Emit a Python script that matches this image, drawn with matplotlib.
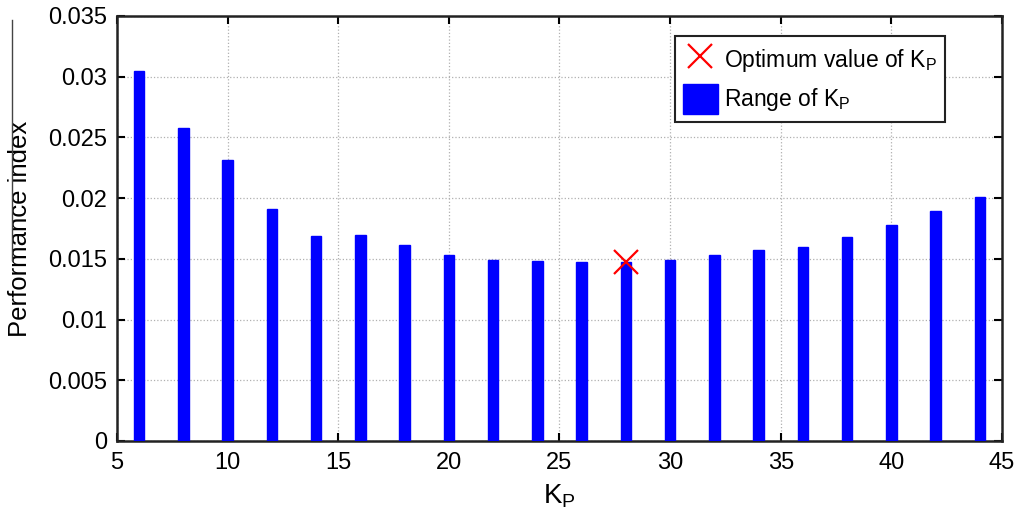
import matplotlib
matplotlib.use("Agg")
import matplotlib.pyplot as plt
from matplotlib.lines import Line2D
from matplotlib.patches import Patch

plt.rcParams['font.family'] = ['Liberation Sans', 'DejaVu Sans']
plt.rcParams['mathtext.fontset'] = 'custom'
plt.rcParams['mathtext.rm'] = 'Liberation Sans'
plt.rcParams['mathtext.it'] = 'Liberation Sans'

kp_values = [6, 8, 10, 12, 14, 16, 18, 20, 22, 24, 26, 28, 30, 32, 34, 36, 38, 40, 42, 44]
perf_index = [0.0305, 0.0258, 0.0231, 0.0191, 0.0169, 0.0170, 0.0161, 0.0153, 0.0149, 0.0148,
              0.0147, 0.0147, 0.0149, 0.0153, 0.0157, 0.0160, 0.0168, 0.0178, 0.0189, 0.0201]
opt_kp = [28]
opt_perf = [0.0147]
x_ticks = [5, 10, 15, 20, 25, 30, 35, 40, 45]
y_ticks = [0, 0.005, 0.01, 0.015, 0.02, 0.025, 0.03, 0.035]
y_ticklabels = ['0', '0.005', '0.01', '0.015', '0.02', '0.025', '0.03', '0.035']

fig = plt.figure(figsize=(10.26, 5.15), dpi=100)
ax = fig.add_axes([0.114, 0.1437, 0.8626, 0.8253])

ax.bar(kp_values, perf_index, width=0.47, color='#0000ff', edgecolor='#0000ff', zorder=3)
ax.plot(opt_kp, opt_perf, 'x', color='red', markersize=17, markeredgewidth=1.6, zorder=4)

ax.set_xlim(5, 45)
ax.set_ylim(0, 0.035)
ax.set_xticks(x_ticks)
ax.set_yticks(y_ticks)
ax.set_yticklabels(y_ticklabels)
ax.tick_params(direction='in', length=6, width=1.5, labelsize=17, top=True, right=True)
ax.tick_params(axis='x', pad=8)
ax.tick_params(axis='y', pad=7)
for s in ax.spines.values():
    s.set_linewidth(1.8)
    s.set_color('#222222')
ax.grid(True, linestyle=':', color='#b0b0b0', linewidth=0.9, zorder=0)
ax.set_axisbelow(True)

ax.set_xlabel(r'$\mathregular{K_P}$', fontsize=20, labelpad=6)
ax.set_ylabel('Performance index', fontsize=18.5, labelpad=12)

handles = [Line2D([], [], marker='x', color='red', linestyle='None', markersize=17, markeredgewidth=1.6),
           Patch(facecolor='#0000ff', edgecolor='#0000ff')]
labels = [r'Optimum value of $\mathregular{K_P}$', r'Range of $\mathregular{K_P}$']
leg = ax.legend(handles, labels, loc='upper right', bbox_to_anchor=(0.936, 0.952), fontsize=16.5,
                fancybox=False, framealpha=1, edgecolor='#222222', handlelength=1.5,
                handleheight=1.6, handletextpad=0.3, borderpad=0.35, labelspacing=0.45,
                borderaxespad=0)
leg.get_frame().set_linewidth(1.5)

fig.add_artist(Line2D([12/1026, 12/1026], [1 - 20/515, 1 - 260/515], color='#444444', linewidth=1))

fig.savefig('out.png', dpi=100)
